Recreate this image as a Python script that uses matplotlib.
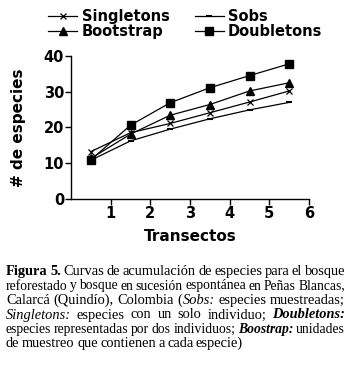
import matplotlib
matplotlib.use("Agg")
import matplotlib.pyplot as plt

# data
transectos = [0.5, 1.5, 2.5, 3.5, 4.5, 5.5]
singletons = [13.2, 18.5, 21.1, 24.1, 27.1, 30.2]
sobs = [10.8, 16.2, 19.5, 22.4, 24.9, 27.0]
bootstrap = [11.3, 18.1, 23.4, 26.4, 30.2, 32.5]
doubletons = [10.9, 20.6, 26.9, 31.1, 34.5, 37.8]

xticks = [1, 2, 3, 4, 5, 6]
yticks = [0, 10, 20, 30, 40]

caption = [
    [("Figura 5.", "bold"), ("Curvas de acumulación de especies para el bosque", "normal")],
    [("reforestado y bosque en sucesión espontánea en Peñas Blancas,", "normal")],
    [("Calarcá (Quindío), Colombia (", "normal"), ("Sobs:", "italic"), ("especies muestreadas;", "normal")],
    [("Singletons:", "italic"), ("especies con un solo individuo;", "normal"), ("Doubletons:", "bolditalic")],
    [("especies representadas por dos individuos;", "normal"), ("Boostrap:", "bolditalic"), ("unidades", "normal")],
    [("de muestreo que contienen a cada especie)", "normal")],
]

fig = plt.figure(figsize=(3.54, 3.66), dpi=100)
ax = fig.add_axes([0.2006, 0.457, 0.6723, 0.390])

ax.plot(transectos, singletons, color="black", lw=0.9, marker="x", ms=5, mew=0.9, label="Singletons")
ax.plot(transectos, bootstrap, color="black", lw=0.9, marker="^", ms=5.5, label="Bootstrap")
ax.plot(transectos, sobs, color="black", lw=0.9, marker="_", ms=5, mew=1.5, label="Sobs")
ax.plot(transectos, doubletons, color="black", lw=0.9, marker="s", ms=5.5, label="Doubletons")

ax.set_xlim(0, 6)
ax.set_ylim(0, 40)
ax.set_xticks(xticks)
ax.set_yticks(yticks)
for s in ["top", "right"]:
    ax.spines[s].set_visible(False)
for s in ["left", "bottom"]:
    ax.spines[s].set_linewidth(1.0)
ax.tick_params(direction="out", length=4, width=1.0, labelsize=10.5, pad=1)
for lab in ax.get_xticklabels() + ax.get_yticklabels():
    lab.set_fontweight("bold")
ax.set_xlabel("Transectos", fontsize=11, fontweight="bold", labelpad=6)
ax.set_ylabel("# de especies", fontsize=11, fontweight="bold", labelpad=13)

fig.legend(loc="upper left", bbox_to_anchor=(0.12, 0.992), ncol=2, frameon=False,
           prop={"weight": "bold", "size": 10.5}, handlelength=2.0, handletextpad=0.3,
           columnspacing=1.7, labelspacing=0.05, borderaxespad=0)

# caption, justified line by line
fig.canvas.draw()
renderer = fig.canvas.get_renderer()
left_px, right_px = 6, 345
H = fig.bbox.height
W = fig.bbox.width
line_y = [271.7, 286.0, 300.7, 315.0, 329.3, 343.3]
styles = {
    "normal": dict(weight="normal", style="normal"),
    "bold": dict(weight="bold", style="normal"),
    "italic": dict(weight="normal", style="italic"),
    "bolditalic": dict(weight="bold", style="italic"),
}
for i, runs in enumerate(caption):
    words = []
    for txt, st in runs:
        for w in txt.split(" "):
            words.append((w, st))
    last = i == len(caption) - 1
    ng = sum(1 for w, _ in words[:-1] if not w.endswith("("))
    size = 10.4
    while True:
        texts = [fig.text(0, 1 - line_y[i] / H, w, family="Liberation Serif", size=size,
                          va="center", ha="left", **styles[st]) for w, st in words]
        widths = [t.get_window_extent(renderer).width for t in texts]
        gap = 2.5 if last else (right_px - left_px - sum(widths)) / ng
        if gap >= 2.3 or size < 8.5:
            break
        for t in texts:
            t.remove()
        size -= 0.1
    x = left_px
    for j, t in enumerate(texts):
        t.set_x(x / W)
        x += widths[j]
        if not words[j][0].endswith("("):
            x += gap

fig.savefig("out.png", dpi=100)
